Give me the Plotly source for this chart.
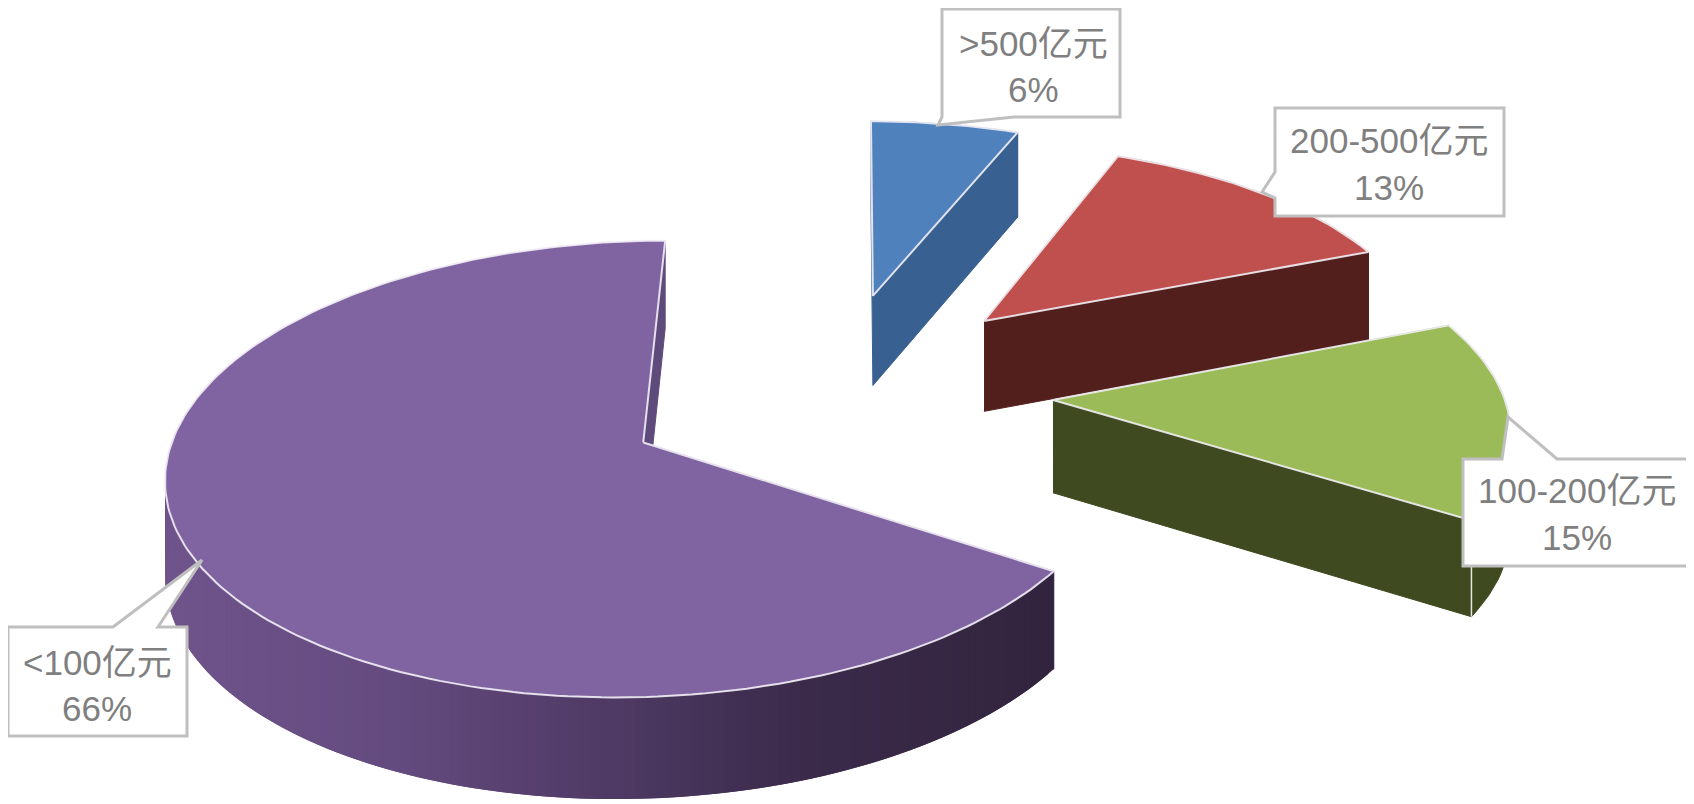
import numpy as np
import plotly.graph_objects as go

# 数据
categories = ['>500亿元', '200-500亿元', '100-200亿元', '<100亿元']
values = [6, 13, 15, 66]

top_colors = ['#4F81BD', '#C0504D', '#9BBB59', '#8064A2']
cut_colors = ['#386090', '#521F1D', '#3F4A20', '#5F4A7C']
wall_colors = ['#386090', '#521F1D', '#3F4A20', None]
radius_scale = [1.0, 0.98, 0.975, 0.995]
nudge = [(-2, 0), (0, -1), (0, 0), (5, 4)]

# 相机/饼图参数 (像素)
VP_X = 853.5
BASE_Y = 443
RADIUS = 474
TILT = 0.478
CAM_DIST = 4054
EXPLODE = 224
CENTER = (-19, -113)

# 紫色外壁的渐变 (屏幕 x -> rgb)
grad_x = [165, 400, 620, 800, 1060]
grad_r = [112, 100, 78, 60, 50]
grad_g = [84, 75, 58, 43, 36]
grad_b = [140, 127, 100, 75, 62]

# 标注框 (外框 + 引线尖)
callouts = [
    [(942, 9), (1120, 9), (1120, 117), (1014, 117), (938, 125), (942, 117)],
    [(1275, 108), (1504, 108), (1504, 216), (1275, 216), (1275, 198), (1262, 192), (1275, 172)],
    [(1463, 459), (1502, 459), (1508, 417), (1557, 459), (1690, 459), (1690, 566), (1463, 566)],
    [(8, 627), (113, 627), (202, 560), (158, 627), (187, 627), (187, 736), (8, 736)],
]
label_pos = [(1033, 43, 89), (1389, 140, 187), (1577, 490, 537), (97, 662, 708)]


def project(u, v):
    w = 1 / (1 - v / CAM_DIST)
    return VP_X + u * w, BASE_Y + TILT * v * w, w


def drop(w):
    return 36 + 58 * w


def add_poly(fig, xs, ys, color, line=None, width=1):
    fig.add_trace(go.Scatter(
        x=list(xs), y=list(ys), mode='lines', fill='toself', fillcolor=color,
        line=dict(color=line or color, width=width),
        hoverinfo='skip', showlegend=False
    ))


fig = go.Figure()

start = 0.0
for i, val in enumerate(values):
    sweep = val / sum(values) * 2 * np.pi
    a = np.linspace(start, start + sweep, max(int(val * 3), 24))
    mid = start + sweep / 2
    r = RADIUS * radius_scale[i]
    u0 = CENTER[0] + EXPLODE * np.sin(mid) + nudge[i][0]
    v0 = CENTER[1] - EXPLODE * np.cos(mid) + nudge[i][1]
    rim_x, rim_y, rim_w = project(u0 + r * np.sin(a), v0 - r * np.cos(a))
    ax, ay, aw = project(u0, v0)
    rim_d = rim_y + drop(rim_w)
    ad = ay + drop(aw)

    # 两个切面
    add_poly(fig, [ax, rim_x[0], rim_x[0], ax], [ay, rim_y[0], rim_d[0], ad], cut_colors[i])
    add_poly(fig, [ax, rim_x[-1], rim_x[-1], ax], [ay, rim_y[-1], rim_d[-1], ad], cut_colors[i])

    # 外壁 (紫色只画朝前的部分)
    if wall_colors[i]:
        add_poly(fig, list(rim_x) + list(rim_x[::-1]), list(rim_y) + list(rim_d[::-1]), wall_colors[i])
    else:
        for j in range(len(a) - 1):
            if a[j] > 1.6 * np.pi:
                break
            k = min(j + 2, len(a) - 1)
            xm = (rim_x[j] + rim_x[j + 1]) / 2
            col = 'rgb(%d,%d,%d)' % (np.interp(xm, grad_x, grad_r),
                                     np.interp(xm, grad_x, grad_g),
                                     np.interp(xm, grad_x, grad_b))
            seg = list(range(j, k + 1))
            add_poly(fig, list(rim_x[seg]) + list(rim_x[seg][::-1]),
                     list(rim_y[seg]) + list(rim_d[seg][::-1]), col, width=0)

    # 顶面
    add_poly(fig, [ax] + list(rim_x) + [ax], [ay] + list(rim_y) + [ay],
             top_colors[i], line='rgba(242,238,245,0.9)', width=2)

    # 绿色外壁与切面的交线
    if i == 2:
        fig.add_trace(go.Scatter(x=[rim_x[-1], rim_x[-1]], y=[rim_y[-1], rim_d[-1]], mode='lines',
                                 line=dict(color='#E6E8DC', width=1.5), hoverinfo='skip', showlegend=False))
    start += sweep

for pts in callouts:
    path = 'M ' + ' L '.join('%g %g' % p for p in pts) + ' Z'
    fig.add_shape(type='path', path=path, fillcolor='white',
                  line=dict(color='#BFBFBF', width=3))

for cat, val, (tx, y1, y2) in zip(categories, values, label_pos):
    for txt, ty in ((cat, y1), ('%d%%' % val, y2)):
        fig.add_annotation(x=tx, y=ty, text=txt, showarrow=False,
                           font=dict(family='Liberation Sans, Noto Sans CJK SC', size=35, color='#7F7F7F'))

# 页面 body 自带 8px 边距, 坐标范围同步平移
fig.update_layout(
    width=1694,
    height=804,
    margin=dict(l=0, r=0, t=0, b=0),
    plot_bgcolor='white',
    paper_bgcolor='white',
    showlegend=False,
    xaxis=dict(range=[8, 1702], visible=False, fixedrange=True),
    yaxis=dict(range=[812, 8], visible=False, fixedrange=True),
)

fig.write_html("out.html")
